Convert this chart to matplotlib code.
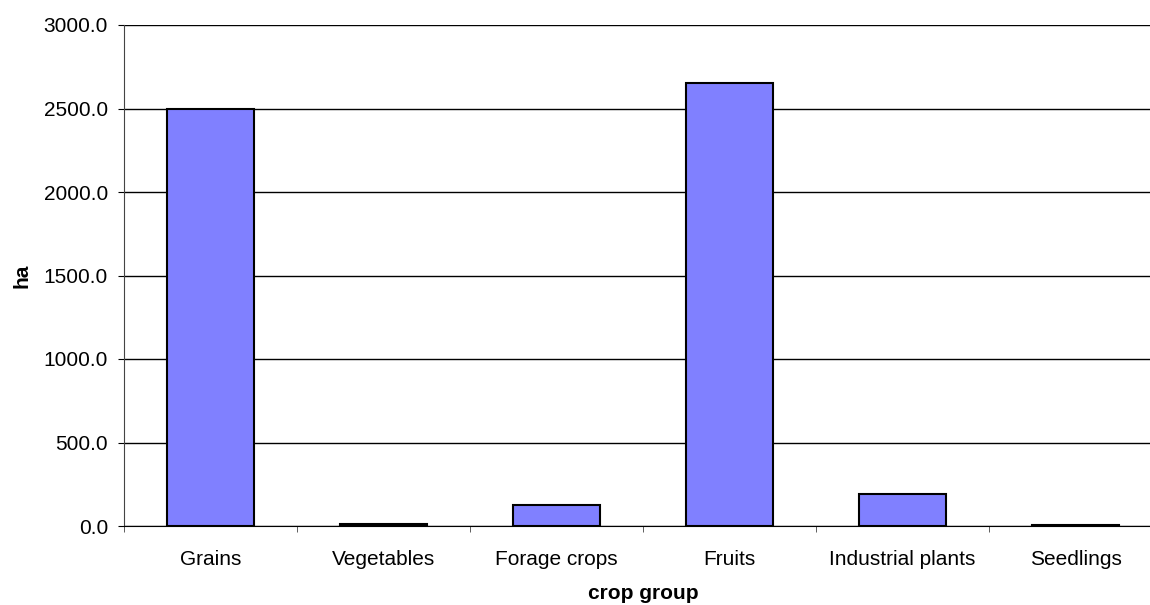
import matplotlib.pyplot as plt
from matplotlib.ticker import FormatStrFormatter, MultipleLocator

# crop areas by group
groups = ["Grains", "Vegetables", "Forage crops", "Fruits", "Industrial plants", "Seedlings"]
area_ha = [2497, 12, 126, 2651, 192, 4]

plt.rcParams['font.family'] = ['Liberation Sans', 'DejaVu Sans']

fig = plt.figure(figsize=(11.5, 6.05), dpi=100)
ax = fig.add_axes([124 / 1150, 79 / 605, 1038 / 1150, 501 / 605])

x = range(len(groups))
ax.bar(x, area_ha, width=0.5, color='#8080FF', edgecolor='black', linewidth=1.5, zorder=3)

ax.set_xlim(-0.5, len(groups) - 0.5)
ax.set_ylim(0, 3000)
ax.yaxis.set_major_locator(MultipleLocator(500))
ax.yaxis.set_major_formatter(FormatStrFormatter('%.1f'))
ax.grid(axis='y', color='black', linewidth=1, zorder=0)

ax.set_xticks(list(x))
ax.set_xticklabels(groups)
ax.set_xticks([i - 0.5 for i in range(len(groups) + 1)], minor=True)
ax.tick_params(axis='x', which='major', length=0, pad=17, labelsize=15)
ax.tick_params(axis='x', which='minor', length=4.5, direction='out', color='#444444')
ax.tick_params(axis='y', length=4.5, direction='out', labelsize=15, pad=7)

for s in ['top', 'right']:
    ax.spines[s].set_visible(False)
ax.spines['left'].set_color('#444444')
ax.spines['bottom'].set_color('black')

ax.set_xlabel('crop group', fontweight='bold', fontsize=15, labelpad=11)
ax.set_ylabel('ha', fontweight='bold', fontsize=15, labelpad=9)

fig.savefig('out.png', dpi=100)
